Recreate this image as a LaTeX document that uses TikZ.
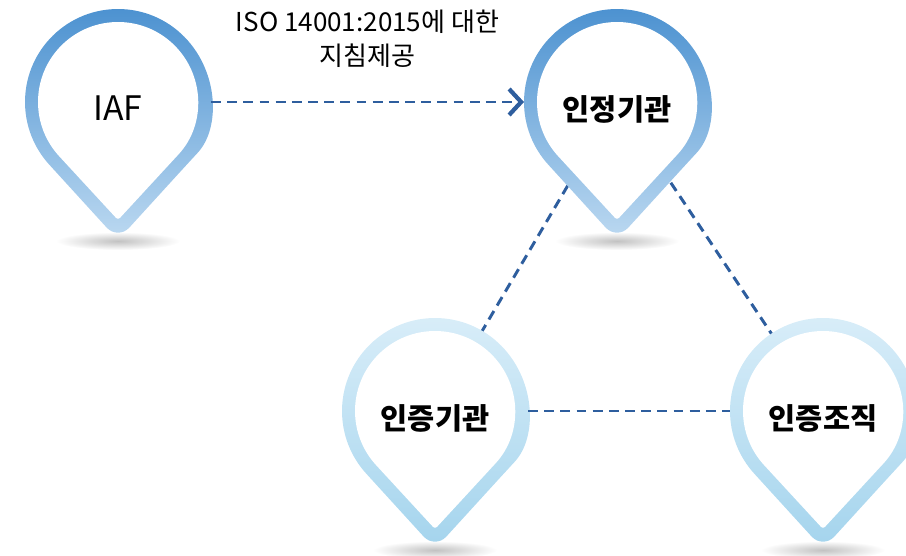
\documentclass[tikz,border=0pt]{standalone}
\usepackage{fontspec}
\setmainfont{Noto Sans CJK KR}
\usepackage{xcolor}
\usepackage{tikz}
\usetikzlibrary{positioning, calc, arrows.meta}
\definecolor{pindeep}{RGB}{72, 143, 207}
\definecolor{pinpale}{RGB}{188, 217, 241}
\definecolor{skytop}{RGB}{218, 238, 249}
\definecolor{skybot}{RGB}{164, 212, 237}
\definecolor{linkblue}{RGB}{46, 94, 158}
\pgfdeclarelayer{background}
\pgfsetlayers{background,main}

% map pin: centre, top colour, bottom colour
\newcommand{\pinmark}[3]{%
    \shade[inner color=black!24, outer color=white] ($(#1)+(0,-139)$) ellipse (62 and 9);
    \shade[top color=#2, bottom color=#3] ($(#1)+(-42.7:93)$)
        arc[start angle=-42.7, end angle=222.7, radius=93]
        [rounded corners=12] -- ($(#1)+(0,-138)$) -- cycle;
    \fill[white] ($(#1)+(-42.7:80)$)
        arc[start angle=-42.7, end angle=222.7, radius=80]
        [rounded corners=2] -- ($(#1)+(0,-118)$) -- cycle;
}

\begin{document}
\begin{tikzpicture}[x=0.025cm, y=0.025cm,
    pin/.style={circle, minimum size=4.65cm, inner sep=0pt, outer sep=0pt},
    title/.style={font=\fontsize{21}{24}\selectfont\bfseries, yshift=-0.18cm},
    link/.style={linkblue, line width=2.1pt, dash pattern=on 7pt off 4.5pt}]
    \useasboundingbox (0,0) rectangle (906,555);

    % The pins
    \pinmark{118,453}{pindeep}{pinpale}
    \pinmark{617,453}{pindeep}{pinpale}
    \pinmark{435,144}{skytop}{skybot}
    \pinmark{823,144}{skytop}{skybot}

    % Bodies
    \node[pin, label={[font=\fontsize{24}{27}\selectfont, yshift=-0.15cm]center:IAF}] (iaf) at (118,453) {};
    \node[pin, label={[title]center:인정기관}] (kab) at (617,453) {};
    \node[pin, label={[title]center:인증기관}] (cb) at (435,144) {};
    \node[pin, label={[title]center:인증조직}] (org) at (823,144) {};

    % Links
    \draw[link, -{Straight Barb[length=3mm, width=6.5mm, line width=3pt]}] (iaf) -- (kab)
        node[midway, above=0.72cm, align=center, text=black, font=\fontsize{18.5}{23.5}\selectfont] (guide)
        {ISO 14001:2015에 대한\\지침제공};
    \draw[link] (cb) -- (org);
    \begin{pgfonlayer}{background}
        \draw[link] (kab.center) -- (cb.center);
        \draw[link] (kab.center) -- (org.center);
    \end{pgfonlayer}
\end{tikzpicture}
\end{document}
